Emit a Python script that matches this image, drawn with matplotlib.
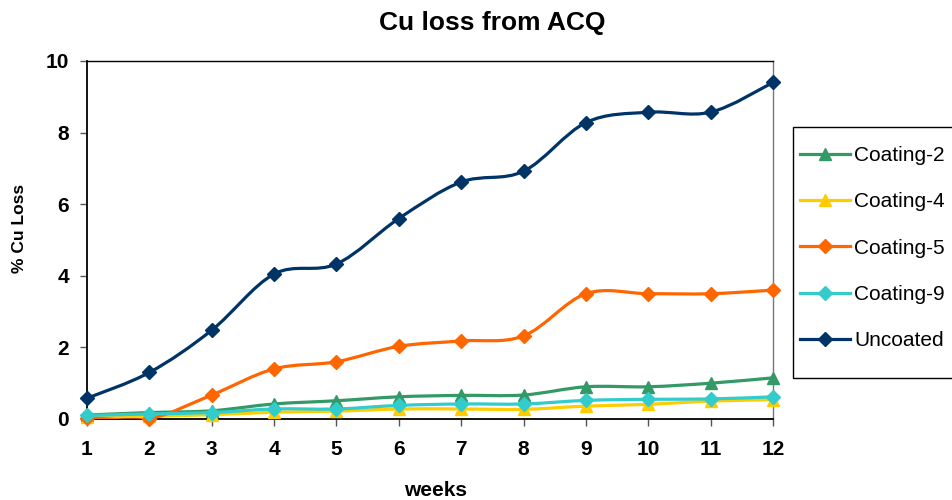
import matplotlib
matplotlib.use("Agg")
import matplotlib.pyplot as plt
from matplotlib.path import Path
from matplotlib.patches import PathPatch, Rectangle
from matplotlib.lines import Line2D
import numpy as np

plt.rcParams['font.family'] = ['Liberation Sans', 'DejaVu Sans']

weeks = [1, 2, 3, 4, 5, 6, 7, 8, 9, 10, 11, 12]
coating_2 = [0.11, 0.18, 0.23, 0.42, 0.51, 0.62, 0.66, 0.67, 0.90, 0.90, 1.00, 1.15]
coating_4 = [0.05, 0.08, 0.12, 0.19, 0.22, 0.28, 0.28, 0.27, 0.36, 0.41, 0.50, 0.54]
coating_5 = [0.04, 0.01, 0.67, 1.40, 1.60, 2.03, 2.18, 2.32, 3.50, 3.50, 3.50, 3.60]
coating_9 = [0.10, 0.14, 0.18, 0.28, 0.28, 0.38, 0.42, 0.42, 0.52, 0.55, 0.56, 0.62]
uncoated = [0.58, 1.30, 2.48, 4.05, 4.33, 5.60, 6.62, 6.92, 8.28, 8.57, 8.57, 9.40]

labels = ['Coating-2', 'Coating-4', 'Coating-5', 'Coating-9', 'Uncoated']
series = [coating_2, coating_4, coating_5, coating_9, uncoated]
colors = ['#339966', '#FFCC00', '#FF6600', '#33CCCC', '#003366']
markers = ['^', '^', 'D', 'D', 'D']
msizes = [9, 9, 7.5, 7.5, 7.5]

W, H = 953, 500
fig = plt.figure(figsize=(W / 100, H / 100), dpi=100)
x0, x1, y0, y1 = 87, 773, 61, 419
ax = fig.add_axes([x0 / W, 1 - y1 / H, (x1 - x0) / W, (y1 - y0) / H])


def smooth_path(xs, ys):
    xs = np.asarray(xs, float)
    ys = np.asarray(ys, float)
    n = len(xs)
    verts = [(xs[0], ys[0])]
    codes = [Path.MOVETO]
    for i in range(n - 1):
        im = max(i - 1, 0)
        ip = min(i + 2, n - 1)
        c1 = (xs[i] + (xs[i + 1] - xs[im]) / 6, ys[i] + (ys[i + 1] - ys[im]) / 6)
        c2 = (xs[i + 1] - (xs[ip] - xs[i]) / 6, ys[i + 1] - (ys[ip] - ys[i]) / 6)
        verts += [c1, c2, (xs[i + 1], ys[i + 1])]
        codes += [Path.CURVE4] * 3
    return Path(verts, codes)


handles = []
for lab, ys, c, m, ms in zip(labels, series, colors, markers, msizes):
    p = PathPatch(smooth_path(weeks, ys), facecolor='none', edgecolor=c,
                  lw=2.3, zorder=3, capstyle='round', joinstyle='round')
    ax.add_patch(p)
    ax.plot(weeks, ys, ls='none', marker=m, ms=ms, color=c, mec=c, zorder=4,
            clip_on=False)
    handles.append(Line2D([], [], color=c, lw=2.3, marker=m, ms=ms, mec=c))

ax.set_xlim(1, 12)
ax.set_ylim(0, 10)
ax.set_xticks(weeks)
ax.set_yticks([0, 2, 4, 6, 8, 10])
ax.tick_params(axis='both', direction='out', length=5, width=1,
               labelsize=15, color='#555555')
ax.tick_params(axis='x', pad=10)
ax.tick_params(axis='y', pad=8)
for t in ax.get_xticklabels() + ax.get_yticklabels():
    t.set_fontweight('bold')
for s in ['left', 'bottom', 'top']:
    ax.spines[s].set_color('black')
    ax.spines[s].set_linewidth(1.3)
ax.spines['top'].set_linewidth(1.0)
ax.spines['right'].set_color('#777777')
ax.spines['right'].set_linewidth(1.0)

fig.text(492 / W, 1 - 23 / H, 'Cu loss from ACQ', ha='center', va='center',
         fontsize=19, fontweight='bold')
fig.text(436 / W, 1 - 491 / H, 'weeks', ha='center', va='center',
         fontsize=15, fontweight='bold')
fig.text(20 / W, 1 - 228 / H, '% Cu Loss', ha='center', va='center',
         rotation=90, fontsize=12.5, fontweight='bold')

# legend frame
fig.patches.append(Rectangle((793 / W, 1 - 378 / H), 200 / W, 251 / H,
                             transform=fig.transFigure, facecolor='white',
                             edgecolor='black', lw=1.0, zorder=0))
leg = fig.legend(handles, labels, loc='upper left',
                 bbox_to_anchor=(800 / W, 1 - 146 / H),
                 frameon=False, fontsize=15, handlelength=2.4,
                 handletextpad=0.2, labelspacing=1.31, borderpad=0,
                 borderaxespad=0)

fig.savefig('out.png', dpi=100)
